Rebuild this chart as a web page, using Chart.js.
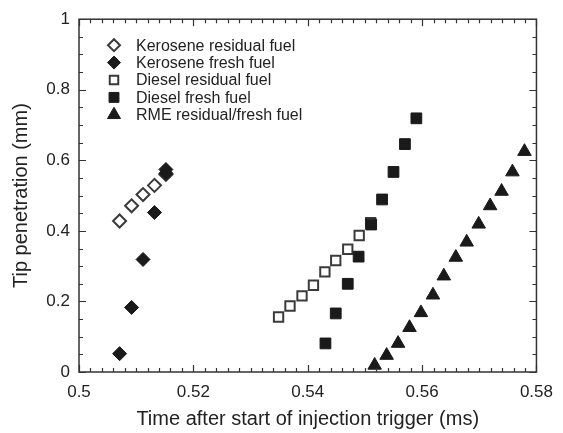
<!DOCTYPE html>
<html>
<head>
<meta charset="utf-8">
<script src="https://cdn.jsdelivr.net/npm/chart.js@4.4.1/dist/chart.umd.min.js"></script>
<style>
    html, body { margin: 0; padding: 0; background: #fff; }
    #wrap { width: 563px; height: 433px; }
</style>
</head>
<body>
<div id="wrap"><canvas id="penChart" width="563" height="433"></canvas></div>
<script>
// time after start of injection trigger (ms) / tip penetration (mm)
const keroResidualX = [0.5071, 0.5092, 0.5112, 0.5132, 0.5152];
const keroResidualY = [0.428, 0.471, 0.503, 0.529, 0.560];
const keroFreshX = [0.5071, 0.5092, 0.5112, 0.5132, 0.5152, 0.5152];
const keroFreshY = [0.052, 0.183, 0.319, 0.452, 0.563, 0.574];
const dieselResidualX = [0.5349, 0.5369, 0.5390, 0.5410, 0.5430, 0.5449, 0.5470, 0.5490, 0.5510];
const dieselResidualY = [0.156, 0.187, 0.216, 0.246, 0.284, 0.316, 0.348, 0.387, 0.423];
const dieselFreshX = [0.5431, 0.5449, 0.5470, 0.5489, 0.5511, 0.5530, 0.5550, 0.5570, 0.5590];
const dieselFreshY = [0.081, 0.166, 0.250, 0.327, 0.418, 0.489, 0.567, 0.646, 0.719];
const rmeX = [0.5517, 0.5538, 0.5558, 0.5578, 0.5598, 0.5619, 0.5638, 0.5659, 0.5678, 0.5699, 0.5719, 0.5739, 0.5758, 0.5779];
const rmeY = [0.019, 0.047, 0.081, 0.126, 0.168, 0.218, 0.272, 0.325, 0.368, 0.419, 0.471, 0.512, 0.567, 0.625];

const seriesLabels = ['Kerosene residual fuel', 'Kerosene fresh fuel', 'Diesel residual fuel', 'Diesel fresh fuel', 'RME residual/fresh fuel'];
const xTickValues = [0.5, 0.52, 0.54, 0.56, 0.58];
const xTickLabels = ['0.5', '0.52', '0.54', '0.56', '0.58'];
const yTickValues = [0, 0.2, 0.4, 0.6, 0.8, 1];
const yTickLabels = ['0', '0.2', '0.4', '0.6', '0.8', '1'];

const INK = '#1a1a1a';
const OPEN_EDGE = '#3a3a3a';
const FONT = "'Liberation Sans', Arial, sans-serif";

const toPoints = (xs, ys) => xs.map((x, i) => ({ x, y: ys[i] }));

function makeSet(label, xs, ys, style, open, radius, legendRadius) {
    return {
        label: label,
        data: toPoints(xs, ys),
        showLine: false,
        pointStyle: style,
        pointRadius: radius,
        pointHoverRadius: radius,
        pointBackgroundColor: open ? '#ffffff' : INK,
        pointBorderColor: open ? OPEN_EDGE : INK,
        pointBorderWidth: open ? 2 : 1,
        legendRadius: legendRadius,
        order: open ? 1 : 0
    };
}

// inward ticks on all four sides plus the frame
const frameTicks = {
    id: 'frameTicks',
    afterDraw(chart) {
        const { ctx, chartArea: a, scales } = chart;
        const xs = scales.x, ys = scales.y;
        ctx.save();
        ctx.strokeStyle = '#333';
        ctx.lineWidth = 1.5;
        ctx.strokeRect(a.left, a.top, a.right - a.left, a.bottom - a.top);
        ctx.lineWidth = 1.2;
        ctx.beginPath();
        for (let k = 0; k <= 40; k++) {
            const v = 0.5 + k * 0.002;
            const px = Math.round(xs.getPixelForValue(v)) + 0.5;
            const len = k % 10 === 0 ? 7 : 4;
            ctx.moveTo(px, a.bottom); ctx.lineTo(px, a.bottom - len);
            ctx.moveTo(px, a.top); ctx.lineTo(px, a.top + len);
        }
        for (let k = 0; k <= 20; k++) {
            const v = k * 0.05;
            const py = Math.round(ys.getPixelForValue(v)) + 0.5;
            const len = k % 4 === 0 ? 7 : 4;
            ctx.moveTo(a.left, py); ctx.lineTo(a.left + len, py);
            ctx.moveTo(a.right, py); ctx.lineTo(a.right - len, py);
        }
        ctx.stroke();
        ctx.restore();
    }
};

const insetLegend = {
    id: 'insetLegend',
    afterDraw(chart) {
        const { ctx, chartArea: a } = chart;
        ctx.save();
        ctx.font = '16px ' + FONT;
        ctx.textBaseline = 'middle';
        chart.data.datasets.forEach((ds, i) => {
            const y = a.top + 26 + i * 17.4;
            const x = a.left + 35;
            ctx.fillStyle = ds.pointBackgroundColor;
            ctx.strokeStyle = ds.pointBorderColor;
            ctx.lineWidth = ds.pointBorderWidth;
            Chart.helpers.drawPoint(ctx, {
                pointStyle: ds.pointStyle,
                radius: ds.legendRadius,
                rotation: 0,
                borderWidth: ds.pointBorderWidth
            }, x, y);
            ctx.fillStyle = '#222';
            ctx.fillText(ds.label, a.left + 57, y + 1);
        });
        ctx.restore();
    }
};

const ctx = document.getElementById('penChart').getContext('2d');
const chart = new Chart(ctx, {
    type: 'scatter',
    data: {
        datasets: [
            makeSet(seriesLabels[0], keroResidualX, keroResidualY, 'rectRot', true, 6.5, 6),
            makeSet(seriesLabels[1], keroFreshX, keroFreshY, 'rectRot', false, 7, 6.5),
            makeSet(seriesLabels[2], dieselResidualX, dieselResidualY, 'rect', true, 6.6, 6),
            makeSet(seriesLabels[3], dieselFreshX, dieselFreshY, 'rect', false, 7.6, 7),
            makeSet(seriesLabels[4], rmeX, rmeY, 'triangle', false, 7.8, 7.5)
        ]
    },
    options: {
        responsive: false,
        animation: false,
        devicePixelRatio: 1,
        layout: { padding: { top: 16, right: 20, left: 0, bottom: 0 } },
        plugins: {
            legend: { display: false },
            tooltip: { enabled: false }
        },
        scales: {
            x: {
                type: 'linear',
                min: 0.5,
                max: 0.58,
                afterBuildTicks: (s) => { s.ticks = xTickValues.map(v => ({ value: v })); },
                afterFit: (s) => { s.height = 61; },
                grid: { display: false, drawTicks: false },
                border: { display: false },
                ticks: {
                    padding: 10,
                    color: '#222',
                    font: { family: FONT, size: 17 },
                    maxRotation: 0,
                    callback: (v, i) => xTickLabels[i]
                },
                title: {
                    display: true,
                    text: 'Time after start of injection trigger (ms)',
                    color: '#222',
                    font: { family: FONT, size: 20 },
                    padding: { top: 0, bottom: 2 }
                }
            },
            y: {
                type: 'linear',
                min: 0,
                max: 1,
                afterBuildTicks: (s) => { s.ticks = yTickValues.map(v => ({ value: v })); },
                afterFit: (s) => { s.width = 79; },
                grid: { display: false, drawTicks: false },
                border: { display: false },
                ticks: {
                    padding: 9,
                    color: '#222',
                    font: { family: FONT, size: 17 },
                    callback: (v, i) => yTickLabels[i]
                },
                title: {
                    display: true,
                    text: 'Tip penetration (mm)',
                    color: '#222',
                    font: { family: FONT, size: 20 },
                    padding: { top: 9, bottom: 0 }
                }
            }
        }
    },
    plugins: [frameTicks, insetLegend]
});
</script>
</body>
</html>
